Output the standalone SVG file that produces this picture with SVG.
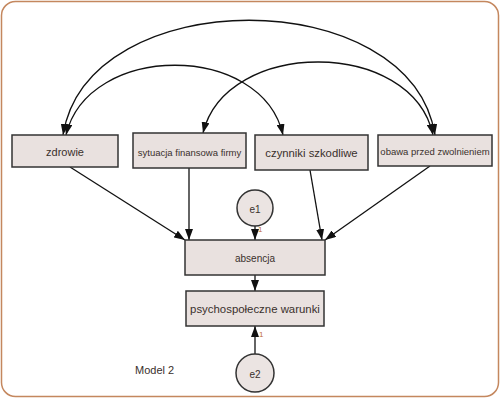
<svg xmlns="http://www.w3.org/2000/svg" width="500" height="400" viewBox="0 0 500 400">
  <defs>
    <marker id="ah" markerUnits="userSpaceOnUse" markerWidth="11" markerHeight="8" refX="11" refY="4" orient="auto-start-reverse">
      <path d="M0,0 L11,4 L0,8 z" fill="#111"/>
    </marker>
    <style>
      .box { fill: #e9e1df; stroke: #333; stroke-width: 1.5; }
      .circ { fill: #ebe4e2; stroke: #333; stroke-width: 1.5; }
      .lbl { font-family: "Liberation Sans", Arial, sans-serif; fill: #3a302c; text-anchor: middle; dominant-baseline: central; }
      .edge { fill: none; stroke: #111; stroke-width: 1.3; }
      .one { font-family: "Liberation Sans", Arial, sans-serif; fill: #c0703a; font-size: 8px; }
    </style>
  </defs>
  <rect x="1.5" y="1.5" width="497" height="395" rx="14" ry="14" fill="#fff" stroke="#c4875e" stroke-width="1.5"/>

  <g id="connectors">
    <path class="edge" d="M63,135 C88,-18 410,-18 435,135" marker-start="url(#ah)" marker-end="url(#ah)"/>
    <path class="edge" d="M66,135 C88,42 262,42 283,135" marker-start="url(#ah)" marker-end="url(#ah)"/>
    <path class="edge" d="M203,133 C226,38 412,38 433,135" marker-start="url(#ah)" marker-end="url(#ah)"/>
    <line class="edge" x1="70" y1="167" x2="185" y2="240" marker-end="url(#ah)"/>
    <line class="edge" x1="189" y1="168" x2="189" y2="240" marker-end="url(#ah)"/>
    <line class="edge" x1="310" y1="170" x2="322" y2="240" marker-end="url(#ah)"/>
    <line class="edge" x1="430" y1="166" x2="325" y2="240" marker-end="url(#ah)"/>
    <line class="edge" x1="255" y1="226" x2="255" y2="240" marker-end="url(#ah)"/>
    <line class="edge" x1="255" y1="275" x2="255" y2="291" marker-end="url(#ah)"/>
    <line class="edge" x1="255" y1="354" x2="255" y2="326" marker-end="url(#ah)"/>
    <text class="one" x="258" y="232">1</text>
    <text class="one" x="259" y="337">1</text>
  </g>

  <g id="zdrowie">
    <rect class="box" x="12" y="135" width="106" height="32"/>
    <text class="lbl" x="65" y="152" font-size="11">zdrowie</text>
  </g>
  <g id="sytuacja">
    <rect class="box" x="133" y="133" width="113" height="35"/>
    <text class="lbl" x="189.5" y="152" font-size="9.5">sytuacja finansowa firmy</text>
  </g>
  <g id="czynniki">
    <rect class="box" x="255" y="135" width="113" height="35"/>
    <text class="lbl" x="311.5" y="153" font-size="11.3">czynniki szkodliwe</text>
  </g>
  <g id="obawa">
    <rect class="box" x="378" y="135" width="114" height="31"/>
    <text class="lbl" x="435" y="151" font-size="9.5">obawa przed zwolnieniem</text>
  </g>
  <g id="e1">
    <circle class="circ" cx="255" cy="208" r="18"/>
    <text class="lbl" x="255" y="209" font-size="10">e1</text>
  </g>
  <g id="absencja">
    <rect class="box" x="185" y="240" width="140" height="35"/>
    <text class="lbl" x="255" y="258" font-size="10">absencja</text>
  </g>
  <g id="psycho">
    <rect class="box" x="186" y="291" width="138" height="35"/>
    <text class="lbl" x="255" y="309" font-size="11.4">psychospołeczne warunki</text>
  </g>
  <g id="e2">
    <circle class="circ" cx="255" cy="373" r="19"/>
    <text class="lbl" x="255" y="374" font-size="10">e2</text>
  </g>
  <text x="135" y="370" font-family="Liberation Sans, Arial, sans-serif" font-size="11" fill="#3a302c" dominant-baseline="central">Model 2</text>
</svg>
